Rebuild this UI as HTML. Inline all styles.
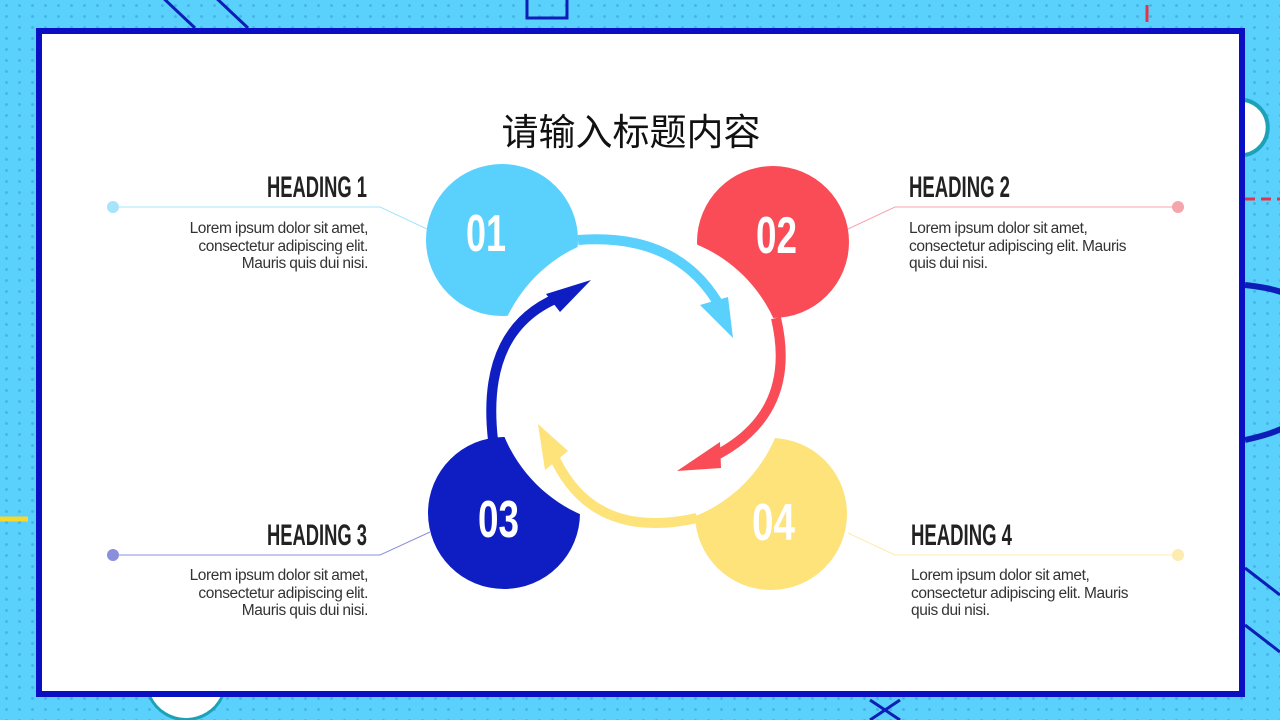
<!DOCTYPE html>
<html><head><meta charset="utf-8"><style>
html,body{margin:0;padding:0}
body{width:1280px;height:720px;overflow:hidden;position:relative;background:#5ad0fc;
background-image:radial-gradient(circle,#45b4e2 1.2px,transparent 1.7px);background-size:13px 11px;}
svg{position:absolute;left:0;top:0}
.p{position:absolute;font-family:"Liberation Sans",sans-serif;font-size:15.5px;line-height:17.5px;color:#333;letter-spacing:-0.4px;word-spacing:-0.5px;white-space:nowrap}
.r{text-align:right}
.t{position:absolute;left:0;width:1262px;top:102px;text-align:center;font-family:"Noto Sans CJK SC",sans-serif;font-size:37px;color:#111}
</style></head><body>
<svg width="1280" height="720">
<line x1="160" y1="-5" x2="195" y2="28" stroke="#0d1eb8" stroke-width="3"/>
<line x1="213" y1="-5" x2="248" y2="28" stroke="#0d1eb8" stroke-width="3"/>
<rect x="527" y="-10" width="40" height="28" fill="none" stroke="#0d1eb8" stroke-width="3"/>
<line x1="1147" y1="5" x2="1147" y2="22" stroke="#e5334a" stroke-width="3"/>
<line x1="1245" y1="199" x2="1280" y2="199" stroke="#e5334a" stroke-width="3" stroke-dasharray="10 6"/>
<path d="M1245 100 A28 28 0 0 1 1245 155" fill="#fff" stroke="#1aa3b8" stroke-width="4"/>
<path d="M1245 285 Q1290 290 1290 300 M1245 440 Q1290 430 1290 420" stroke="#0d1eb8" stroke-width="6" fill="none"/>
<line x1="1245" y1="568" x2="1280" y2="595" stroke="#0d1eb8" stroke-width="3"/>
<line x1="1245" y1="625" x2="1280" y2="652" stroke="#0d1eb8" stroke-width="3"/>
<line x1="0" y1="519" x2="28" y2="519" stroke="#f8d82a" stroke-width="5"/>
<path d="M150 697 A40 40 0 0 0 222 697" fill="#fff" stroke="#1aa3b8" stroke-width="3"/>
<line x1="870" y1="700" x2="900" y2="720" stroke="#0d1eb8" stroke-width="3"/>
<line x1="900" y1="700" x2="870" y2="720" stroke="#0d1eb8" stroke-width="3"/>
<rect x="39" y="31" width="1203" height="663" fill="#fff" stroke="#0b0fc4" stroke-width="6"/>
<g stroke-width="1" fill="none">
<polyline points="113,207 380,207 427,229" stroke="#a6e4fb"/>
<polyline points="1178,207 895,207 848,229" stroke="#f5a6ad"/>
<polyline points="113,555 380,555 430,532" stroke="#8a8fdc"/>
<polyline points="1178,555 895,555 848,533" stroke="#fdecb0"/>
</g>
<circle cx="113" cy="207" r="6" fill="#a6e4fb"/>
<circle cx="1178" cy="207" r="6" fill="#f5a6ad"/>
<circle cx="113" cy="555" r="6" fill="#8a8fdc"/>
<circle cx="1178" cy="555" r="6" fill="#fdecb0"/>
<circle cx="502" cy="240" r="76" fill="#5ad0fc"/>
<circle cx="773" cy="242" r="76" fill="#f94c56"/>
<circle cx="504" cy="513" r="76" fill="#0e1ec2"/>
<circle cx="771" cy="514" r="76" fill="#fee27a"/>
<circle cx="640" cy="380" r="147" fill="#fff"/>
<g fill="none" stroke-width="10">
<path d="M578 240 Q680 232 722 310" stroke="#5ad0fc"/>
<path d="M776 318 Q800 420 702 462" stroke="#f94c56"/>
<path d="M697 518 Q590 542 552 452" stroke="#fee27a"/>
<path d="M493 440 Q480 325 565 295" stroke="#0e1ec2"/>
</g>
<polygon points="733,338 700,305 728,297" fill="#5ad0fc"/>
<polygon points="677,471 720,442 721,468" fill="#f94c56"/>
<polygon points="538,424 545,470 568,451" fill="#fee27a"/>
<polygon points="591,280 546,294 560,312" fill="#0e1ec2"/>
<g font-family="Liberation Sans, sans-serif" font-weight="bold" font-size="52" fill="#fff">
<text x="466" y="251" textLength="40" lengthAdjust="spacingAndGlyphs">01</text>
<text x="756" y="253" textLength="41" lengthAdjust="spacingAndGlyphs">02</text>
<text x="478" y="537" textLength="41" lengthAdjust="spacingAndGlyphs">03</text>
<text x="752" y="540" textLength="43" lengthAdjust="spacingAndGlyphs">04</text>
</g>
<g font-family="Liberation Sans, sans-serif" font-weight="bold" font-size="30" fill="#222">
<text x="267" y="197" textLength="100" lengthAdjust="spacingAndGlyphs">HEADING 1</text>
<text x="909" y="197" textLength="101" lengthAdjust="spacingAndGlyphs">HEADING 2</text>
<text x="267" y="545" textLength="100" lengthAdjust="spacingAndGlyphs">HEADING 3</text>
<text x="911" y="545" textLength="101" lengthAdjust="spacingAndGlyphs">HEADING 4</text>
</g>
</svg>
<div class="t">请输入标题内容</div>
<div class="p r" style="right:912px;top:220px">Lorem ipsum dolor sit amet,<br>consectetur adipiscing elit.<br>Mauris quis dui nisi.</div>
<div class="p" style="left:909px;top:220px">Lorem ipsum dolor sit amet,<br>consectetur adipiscing elit. Mauris<br>quis dui nisi.</div>
<div class="p r" style="right:912px;top:567px">Lorem ipsum dolor sit amet,<br>consectetur adipiscing elit.<br>Mauris quis dui nisi.</div>
<div class="p" style="left:911px;top:567px">Lorem ipsum dolor sit amet,<br>consectetur adipiscing elit. Mauris<br>quis dui nisi.</div>
</body></html>
